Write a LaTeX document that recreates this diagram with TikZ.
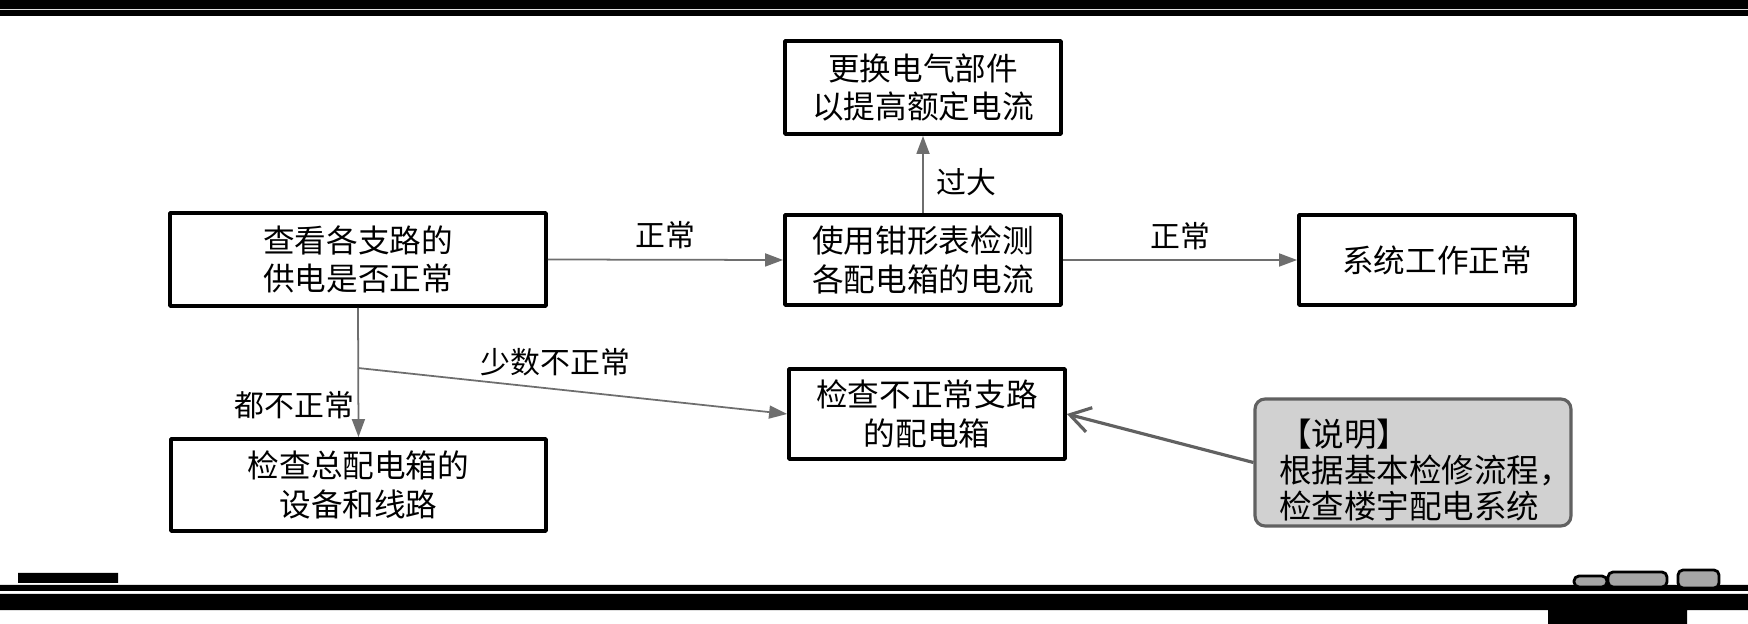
\documentclass[tikz,border=0pt]{standalone}
\usepackage{fontspec}
\newfontfamily\cjk{Noto Sans CJK SC}
\usetikzlibrary{arrows.meta}

\begin{document}
\begin{tikzpicture}[x=0.02cm,y=-0.02cm,>={Triangle[length=.36cm,width=.26cm]},line join=round,
	box/.style={draw,line width=2.2pt,align=center,inner sep=0pt,font=\cjk\fontsize{18}{22}\selectfont},
	lbl/.style={text=black,font=\cjk\fontsize{17}{20}\selectfont,inner sep=2pt},
	arr/.style={->,black!57,line width=1pt},
	ptr/.style={-{Straight Barb[length=.4cm,width=.5cm]},draw=black!62,line width=1.8pt},
	note/.style={draw=black!62,fill=black!18,line width=1.8pt,rounded corners=.2cm,align=left,text width=5.36cm,
		minimum width=6.32cm,minimum height=2.54cm,inner sep=0pt,font=\cjk\fontsize{18.5}{20.5}\selectfont}]
	\useasboundingbox (0,0) rectangle (1748,624);
	% page rules
	\fill
	(0,0) rectangle (1748,9)
	(0,10) rectangle (1748,16)
	(18,573) rectangle (118,583)
	(0,585) rectangle (1748,591)
	(0,594) rectangle (1748,610)
	(1548,610) rectangle (1687,624)
	;
	\draw[line width=1.6pt,fill=black!35,rounded corners=.1cm]
	(1574,576) rectangle (1607,587)
	(1608,572) rectangle (1667,587)
	(1678,570) rectangle (1719,588)
	;
	% boxes
	\path
	(358,259.5) node[box,minimum width=7.52cm,minimum height=1.86cm] (chk) {查看各支路的\\供电是否正常}
	(923,260) node[box,minimum width=5.52cm,minimum height=1.8cm] (clamp) {使用钳形表检测\\各配电箱的电流}
	(923,87.5) node[box,minimum width=5.52cm,minimum height=1.86cm] (swap) {更换电气部件\\以提高额定电流}
	(1437,260) node[box,minimum width=5.52cm,minimum height=1.8cm] (sysok) {系统工作正常}
	(927,414) node[box,minimum width=5.52cm,minimum height=1.8cm] (fault) {检查不正常支路\\的配电箱}
	(358.5,485) node[box,minimum width=7.5cm,minimum height=1.84cm] (mainbox) {检查总配电箱的\\设备和线路}
	(1413,462.5) node[note] (remark) {\rule{0pt}{.84cm}【说明】\\根据基本检修流程，\\检查楼宇配电系统}
	;
	\coordinate (fork) at (chk.south |- 0,368);
	% connectors
	\draw[arr] (chk.east) -- node[lbl,midway,above=.12cm] (okA) {正常} (clamp.west);
	\draw[arr] (clamp.east) -- node[lbl,midway,above=.12cm] (okB) {正常} (sysok.west);
	\draw[arr] (clamp.north) -- node[lbl,pos=.4,right=.18cm] (high) {过大} (swap.south);
	\draw[arr] (chk.south) -- node[lbl,pos=.75,left] (allbad) {都不正常} (mainbox.north);
	\draw[arr] (fork) -- node[lbl,pos=.46,above=.17cm] (fewbad) {少数不正常} (fault.west);
	\draw[ptr] (remark.west) -- (fault.east);
\end{tikzpicture}
\end{document}
